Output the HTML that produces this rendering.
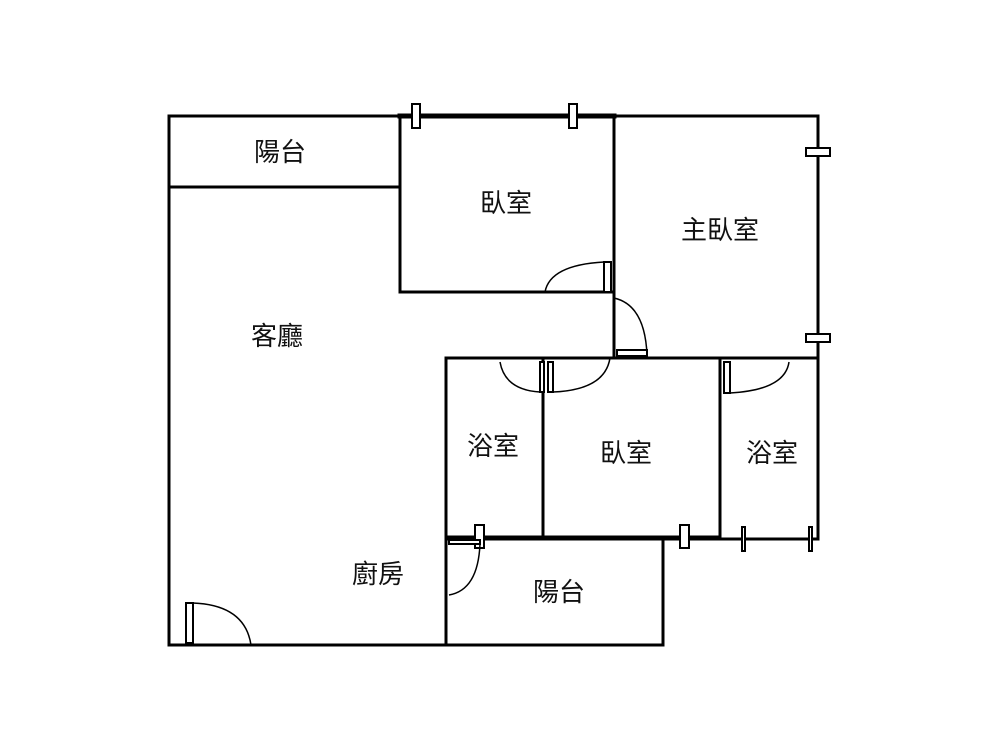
<!DOCTYPE html>
<html><head><meta charset="utf-8"><style>
body{margin:0;background:#fff;}
svg text{font-family:"Liberation Sans","Noto Sans CJK TC",sans-serif;font-size:26px;fill:#111;text-anchor:middle;dominant-baseline:central;}
</style></head><body>
<svg width="1000" height="750" viewBox="0 0 1000 750">
<g stroke="#000" stroke-width="3" fill="none" stroke-linecap="square">
<polyline points="169,645 169,116 818,116 818,358"/>
<line x1="400" y1="116" x2="614" y2="116" stroke-width="5"/>
<line x1="169" y1="187" x2="400" y2="187"/>
<polyline points="400,120 400,292 614,292"/>
<line x1="614" y1="116" x2="614" y2="358"/>
<line x1="446" y1="358" x2="818" y2="358"/>
<line x1="818" y1="358" x2="818" y2="539"/>
<line x1="446" y1="358" x2="446" y2="645"/>
<line x1="169" y1="645" x2="663" y2="645"/>
<line x1="663" y1="539" x2="663" y2="645"/>
<line x1="446" y1="537" x2="720" y2="537"/>
<line x1="446" y1="539" x2="818" y2="539"/>
<line x1="543" y1="358" x2="543" y2="537"/>
<line x1="720" y1="358" x2="720" y2="537"/>
</g>
<g stroke="#000" stroke-width="2" fill="#fff">
<rect x="412" y="104" width="8" height="24"/>
<rect x="569" y="104" width="8" height="24"/>
<rect x="806" y="148" width="24" height="8"/>
<rect x="806" y="334" width="24" height="8"/>
<rect x="475" y="525" width="9" height="23"/>
<rect x="680" y="525" width="9" height="23"/>
<rect x="742" y="527" width="3" height="24"/>
<rect x="809" y="527" width="3" height="24"/>
<rect x="604" y="262" width="7" height="30"/>
<rect x="617" y="350" width="30" height="6"/>
<rect x="540" y="362" width="4" height="30"/>
<rect x="548" y="362" width="5" height="30"/>
<rect x="724" y="362" width="6" height="31"/>
<rect x="449" y="540" width="31" height="4"/>
<rect x="186" y="603" width="7" height="40"/>
</g>
<g stroke="#000" stroke-width="1.5" fill="none">
<path d="M545,292 Q550,265 604,262"/>
<path d="M614,298 Q645,305 647,355"/>
<path d="M500,362 Q505,390 540,392"/>
<path d="M553,392 Q605,390 610,358"/>
<path d="M730,393 Q785,390 789,362"/>
<path d="M480,544 Q478,590 449,595"/>
<path d="M193,603 Q245,605 251,645"/>
</g>
<text x="280" y="152">陽台</text>
<text x="506" y="203">臥室</text>
<text x="720" y="230">主臥室</text>
<text x="277" y="336">客廳</text>
<text x="493" y="446">浴室</text>
<text x="626" y="453">臥室</text>
<text x="772" y="453">浴室</text>
<text x="378" y="574">廚房</text>
<text x="559" y="592">陽台</text>
</svg>
</body></html>
